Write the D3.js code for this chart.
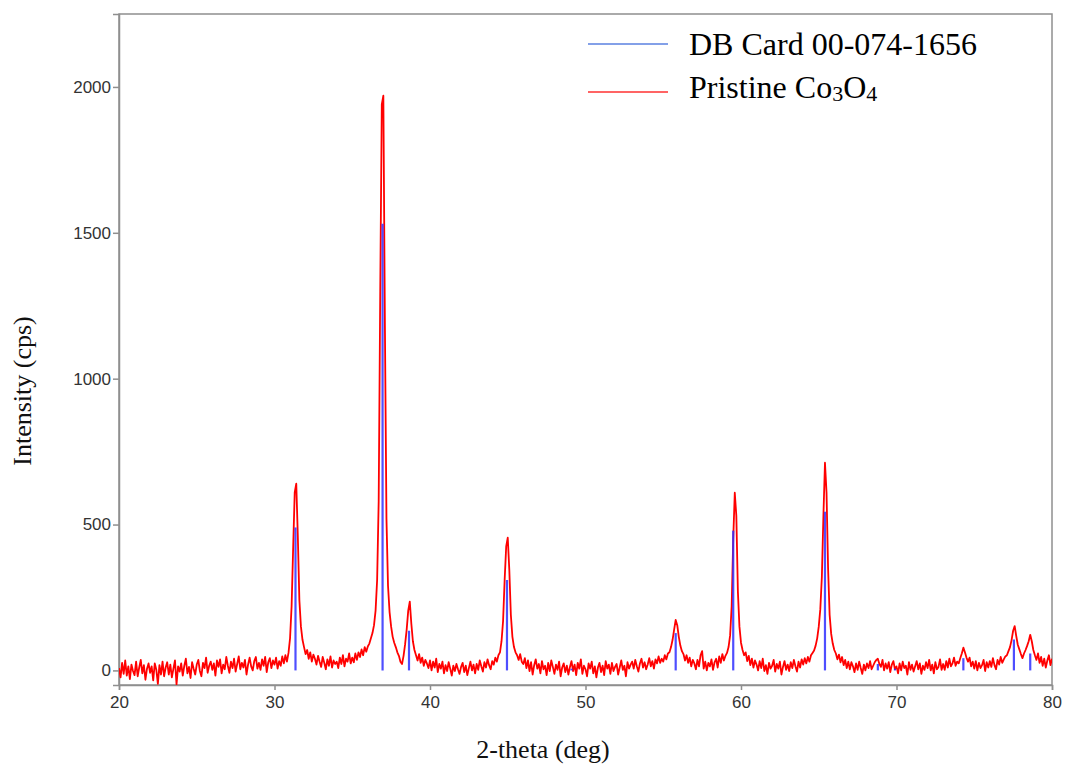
<!DOCTYPE html>
<html>
<head>
<meta charset="utf-8">
<script src="https://cdn.jsdelivr.net/npm/d3@7"></script>
<style>
  html, body { margin: 0; padding: 0; background: #fff; }
  svg { display: block; }
</style>
</head>
<body>
<svg id="chart" width="1067" height="764"></svg>
<script>
// ---- data ----
const twoThetaStart = 20;
const twoThetaStep = 0.1;
const intensity = [
  8,-24,26,-12,34,-18,14,-30,20,-2,
  -16,30,-20,10,36,-10,18,-32,6,24,
  -8,14,-34,24,2,-46,18,-14,30,-20,
  10,28,-14,20,-24,6,34,-48,14,-4,
  24,-18,16,40,-10,12,-26,28,6,-14,
  20,36,-2,-20,26,8,44,-8,16,30,
  2,24,-18,34,12,38,-10,20,4,46,
  16,-8,30,8,40,-4,22,48,4,26,
  10,36,-14,20,44,14,0,32,46,6,
  26,2,38,16,46,-6,28,42,8,34,
  20,44,6,32,16,48,24,52,30,60,
  110,220,420,610,640,460,240,150,105,80,
  56,70,40,62,30,54,40,20,50,30,
  12,46,26,4,38,16,48,10,34,22,
  30,8,44,22,52,14,40,30,58,24,
  44,28,58,36,62,46,72,52,80,64,
  82,92,110,128,155,205,310,580,1300,1940,
  1970,1180,520,290,200,150,115,95,80,62,
  50,30,22,50,90,140,205,236,160,100,
  70,52,34,56,26,44,16,36,24,8,
  34,0,30,10,40,-6,22,6,30,-10,
  18,-2,28,6,-18,16,-2,22,4,-12,
  12,26,-6,16,-16,8,30,0,20,-10,
  22,2,34,14,-4,28,10,38,18,4,
  32,20,44,30,52,62,100,170,310,425,
  455,345,190,115,80,62,52,36,56,30,
  22,42,8,34,-2,28,-14,18,38,6,
  22,-10,32,4,16,-16,26,-2,34,12,
  -12,20,2,30,-20,10,24,-6,16,-14,
  12,32,-2,20,-16,26,6,38,-12,16,
  4,-20,24,6,30,-10,14,-24,10,26,
  -6,16,-16,32,6,20,-12,26,-2,12,
  22,-14,10,34,2,16,-20,28,6,20,
  30,6,36,14,-4,24,40,10,28,4,
  20,42,14,32,6,38,24,48,26,40,
  30,52,38,58,62,80,105,140,173,155,
  115,85,66,56,34,52,26,44,14,36,
  24,4,36,14,52,66,6,30,0,26,
  14,38,2,28,40,10,48,26,56,34,
  50,60,80,120,220,450,609,530,270,150,
  95,70,52,62,32,50,18,40,10,34,
  20,0,32,8,40,-2,18,-12,26,6,
  16,36,-4,22,6,30,-14,12,32,2,
  20,-2,28,8,36,14,-4,30,10,38,
  20,42,24,46,30,52,60,68,85,110,
  150,210,320,530,712,610,350,190,125,92,
  70,58,38,54,28,46,18,36,8,30,
  4,28,14,-6,24,2,30,8,-12,20,
  0,24,8,32,4,16,28,36,40,22,
  12,36,0,24,6,28,-6,20,32,4,
  14,-10,24,0,30,8,16,-14,28,2,
  20,-4,14,32,4,24,-12,16,2,28,
  8,36,0,20,-10,28,4,12,38,2,
  22,2,32,10,40,14,24,44,16,30,
  24,42,58,78,62,44,30,44,14,30,
  6,32,0,26,8,18,36,-2,28,10,
  32,12,42,18,4,36,20,46,26,38,
  48,52,66,80,104,136,152,118,88,72,
  56,42,58,70,84,100,122,100,70,52,
  36,58,26,46,16,40,10,34,52,18,
  40
];
const cardPositions   = [31.35, 36.95, 38.65, 44.95, 49.1, 55.8, 59.5, 65.4, 68.8, 69.9, 74.3, 77.55, 78.6];
const cardIntensities = [490, 1531, 136, 310, 6, 128, 479, 544, 22, 6, 42, 106, 58];
const xTicks = [20, 30, 40, 50, 60, 70, 80];
const yTicks = [0, 500, 1000, 1500, 2000];
const legendLabels = ["DB Card 00-074-1656", "Pristine Co3O4"];

(function draw() {
  const svg = d3.select("#chart");
  const pL = 119, pR = 1052, pT = 14, pB = 685;
  const x = d3.scaleLinear().domain([20, 80]).range([pL, pR]);
  const y = d3.scaleLinear().domain([-50, 2250]).range([pB, pT]);

  const axisColor = "#8f8f8f";
  const tickTextColor = "#333";

  // frame
  svg.append("rect")
    .attr("x", pL).attr("y", pT)
    .attr("width", pR - pL).attr("height", pB - pT)
    .attr("fill", "none").attr("stroke", axisColor).attr("stroke-width", 1.5);

  svg.append("clipPath").attr("id", "clip")
    .append("rect").attr("x", pL).attr("y", pT)
    .attr("width", pR - pL).attr("height", pB - pT);

  // x axis
  const xAxis = svg.append("g")
    .attr("transform", `translate(0,${pB})`)
    .call(d3.axisBottom(x).tickValues(xTicks).tickSize(5).tickPadding(6).tickFormat(d3.format("d")));
  xAxis.select(".domain").attr("stroke", axisColor).attr("stroke-width", 1.5);
  xAxis.selectAll(".tick line").attr("stroke", axisColor).attr("stroke-width", 1.5);
  xAxis.selectAll(".tick text")
    .attr("font-family", "Liberation Sans, Arial, sans-serif")
    .attr("font-size", 17).attr("fill", tickTextColor);

  // y axis
  const yAxis = svg.append("g")
    .attr("transform", `translate(${pL},0)`)
    .call(d3.axisLeft(y).tickValues(yTicks).tickSize(6).tickPadding(2).tickFormat(d3.format("d")));
  yAxis.select(".domain").attr("stroke", axisColor).attr("stroke-width", 1.5);
  yAxis.selectAll(".tick line").attr("stroke", axisColor).attr("stroke-width", 1.5);
  yAxis.selectAll(".tick text")
    .attr("font-family", "Liberation Sans, Arial, sans-serif")
    .attr("font-size", 17).attr("fill", tickTextColor);

  // red pattern
  const plot = svg.append("g").attr("clip-path", "url(#clip)");
  const line = d3.line()
    .x((d, i) => x(twoThetaStart + i * twoThetaStep))
    .y(d => y(d));
  plot.append("path")
    .datum(intensity)
    .attr("d", line)
    .attr("fill", "none")
    .attr("stroke", "#ff0000")
    .attr("stroke-width", 1.8)
    .attr("stroke-linejoin", "round");

  // blue reference sticks
  plot.selectAll("line.card")
    .data(cardPositions)
    .enter().append("line")
    .attr("class", "card")
    .attr("x1", d => x(d)).attr("x2", d => x(d))
    .attr("y1", y(0))
    .attr("y2", (d, i) => y(cardIntensities[i]))
    .attr("stroke", "#2f2fff")
    .attr("stroke-opacity", 0.85)
    .attr("stroke-width", 2.2);

  // axis titles
  svg.append("text")
    .attr("x", 543).attr("y", 758)
    .attr("text-anchor", "middle")
    .attr("font-family", "Liberation Serif, 'Times New Roman', serif")
    .attr("font-size", 26).attr("fill", "#111")
    .text("2-theta (deg)");

  svg.append("text")
    .attr("transform", "translate(31,391) rotate(-90)")
    .attr("text-anchor", "middle")
    .attr("font-family", "Liberation Serif, 'Times New Roman', serif")
    .attr("font-size", 26).attr("fill", "#111")
    .text("Intensity (cps)");

  // legend
  const lg = svg.append("g");
  lg.append("line").attr("x1", 588).attr("x2", 668).attr("y1", 44).attr("y2", 44)
    .attr("stroke", "#5a80e0").attr("stroke-width", 1.6);
  lg.append("line").attr("x1", 588).attr("x2", 668).attr("y1", 92).attr("y2", 92)
    .attr("stroke", "#ff3030").attr("stroke-width", 1.6);
  lg.append("text").attr("x", 689).attr("y", 55)
    .attr("font-family", "Liberation Serif, 'Times New Roman', serif")
    .attr("font-size", 32).attr("fill", "#000")
    .text(legendLabels[0]);
  const t2 = lg.append("text").attr("x", 689).attr("y", 98)
    .attr("font-family", "Liberation Serif, 'Times New Roman', serif")
    .attr("font-size", 32).attr("fill", "#000");
  t2.append("tspan").text("Pristine Co");
  t2.append("tspan").attr("font-size", 22).attr("dy", 3).text("3");
  t2.append("tspan").attr("dy", -3).text("O");
  t2.append("tspan").attr("font-size", 22).attr("dy", 3).text("4");
})();
</script>
</body>
</html>
